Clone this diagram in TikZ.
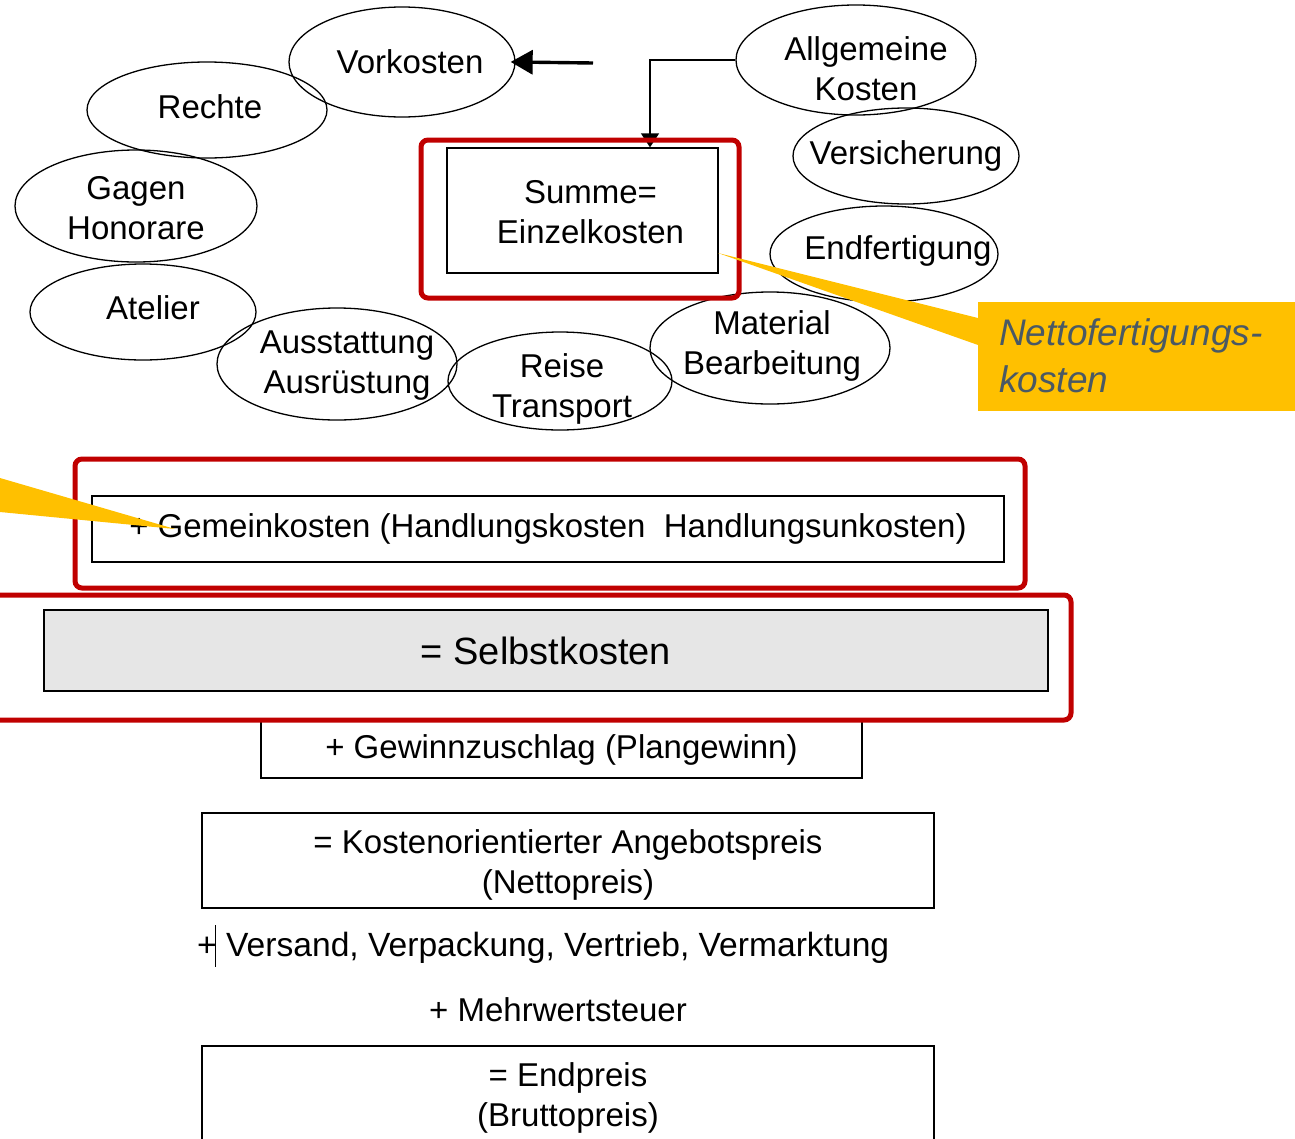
\documentclass[tikz,border=0pt]{standalone}
\usepackage{fontspec}
\setmainfont{Liberation Sans}
\usetikzlibrary{shapes.geometric,arrows.meta}
\definecolor{framered}{RGB}{192,0,0}
\definecolor{calloutyellow}{RGB}{255,192,0}
\definecolor{callouttext}{RGB}{74,89,100}
\definecolor{boxgray}{RGB}{230,230,230}
\tikzset{
    oval/.style={draw, ellipse, line width=1.3pt, inner sep=0pt},
    ovaltext/.style={align=center, inner sep=0pt, font=\fontsize{33}{40}\selectfont},
    costbox/.style={draw, line width=1.3pt, inner sep=0pt, align=center,
        font=\fontsize{33}{40}\selectfont},
    costline/.style={inner sep=0pt, font=\fontsize{33}{40}\selectfont},
    redframe/.style={draw=framered, line width=5pt, rounded corners=7pt},
}
\begin{document}
\begin{tikzpicture}[x=1pt, y=-1pt]
    \useasboundingbox (0, 0) rectangle (1295, 1138);
    % Einzelkosten
    \node[oval, minimum width=226, minimum height=110,
        label={[ovaltext, xshift=8pt]center:Vorkosten}] (vork) at (402, 62) {};
    \node[oval, minimum width=240, minimum height=96,
        label={[ovaltext, xshift=3pt, yshift=3pt]center:Rechte}] (rechte) at (207, 110) {};
    \node[oval, minimum width=242, minimum height=112,
        label={[ovaltext, yshift=-2pt]center:Gagen\\Honorare}] (gagen) at (136, 206) {};
    \node[oval, minimum width=226, minimum height=96,
        label={[ovaltext, xshift=10pt, yshift=4pt]center:Atelier}] (atelier) at (143, 312) {};
    \node[oval, minimum width=240, minimum height=112,
        label={[ovaltext, xshift=10pt, yshift=-2pt]center:Ausstattung\\Ausrüstung}] (ausst) at (337, 364) {};
    \node[oval, minimum width=224, minimum height=98,
        label={[ovaltext, xshift=2pt, yshift=-8pt]center:Reise\\Transport}] (reise) at (560, 381) {};
    \node[oval, minimum width=240, minimum height=112,
        label={[ovaltext, xshift=2pt, yshift=2pt]center:Material\\Bearbeitung}] (material) at (770, 348) {};
    \node[oval, minimum width=228, minimum height=96,
        label={[ovaltext, xshift=14pt, yshift=3pt]center:Endfertigung}] (endfert) at (884, 254) {};
    \node[oval, minimum width=226, minimum height=96,
        label={[ovaltext]center:Versicherung}] (versich) at (906, 156) {};
    \node[oval, minimum width=240, minimum height=110,
        label={[ovaltext, xshift=10pt, yshift=-9pt]center:Allgemeine\\Kosten}] (allg) at (856, 60) {};
    \node[costbox, minimum width=271, minimum height=125,
        label={[ovaltext, xshift=8pt, yshift=-2pt]center:Summe=\\Einzelkosten}] (summe) at (582.5, 210.5) {};
    \coordinate (vorkpfeil) at (593, 63);
    \draw[line width=3.4pt, -{Triangle[width=24pt, length=22pt]}, shorten >=-5pt] (vorkpfeil) -- (vork.east);
    \draw[line width=1.3pt, -{Triangle[width=18pt, length=14pt]}] (allg.west) -| ([xshift=67.5pt]summe.north);
    \draw[redframe] (421, 140) rectangle (739, 298);
    % Kalkulation
    \node[costbox, minimum width=912, minimum height=66] (gemein) at (548, 529)
        {+ Gemeinkosten (Handlungskosten\ \ Handlungsunkosten)};
    \node[costbox, fill=boxgray, minimum width=1004, minimum height=81,
        font=\fontsize{38}{45}\selectfont] (selbst) at (546, 650.5) {= Selbstkosten};
    \node[costbox, minimum width=601, minimum height=58,
        label={[ovaltext, yshift=-1pt]center:+ Gewinnzuschlag (Plangewinn)}] (gewinn) at (561.5, 749) {};
    \draw[redframe] (75, 459) rectangle (1025, 588);
    \draw[redframe] (-10, 595) rectangle (1071, 720);
    \node[costbox, minimum width=732, minimum height=95,
        label={[ovaltext, yshift=-4pt]center:= Kostenorientierter Angebotspreis\\(Nettopreis)}] (angebot) at (568, 860.5) {};
    \node[costline, anchor=west, font=\fontsize{33.6}{40}\selectfont] (versand) at (197, 948)
        {+ Versand, Verpackung, Vertrieb, Vermarktung};
    \draw[line width=1pt] (215, 925) -- (215, 967);
    \node[costline] (mwst) at (558, 1010) {+ Mehrwertsteuer};
    \node[costbox, minimum width=732, minimum height=104] (endpreis) at (568, 1098)
        {= Endpreis\\(Bruttopreis)};
    % Hinweise
    \fill[calloutyellow] (718, 253) -- (978, 318) -- (978, 345) -- cycle;
    \fill[calloutyellow] (978, 302) rectangle (1300, 411);
    \node[anchor=north west, inner sep=0pt, align=left, text=callouttext,
        font=\fontsize{37}{47}\selectfont\itshape] (netto) at (999, 318) {Nettofertigungs-\\kosten};
    \fill[calloutyellow] (0, 478) -- (175, 529) -- (0, 512) -- cycle;
\end{tikzpicture}
\end{document}
